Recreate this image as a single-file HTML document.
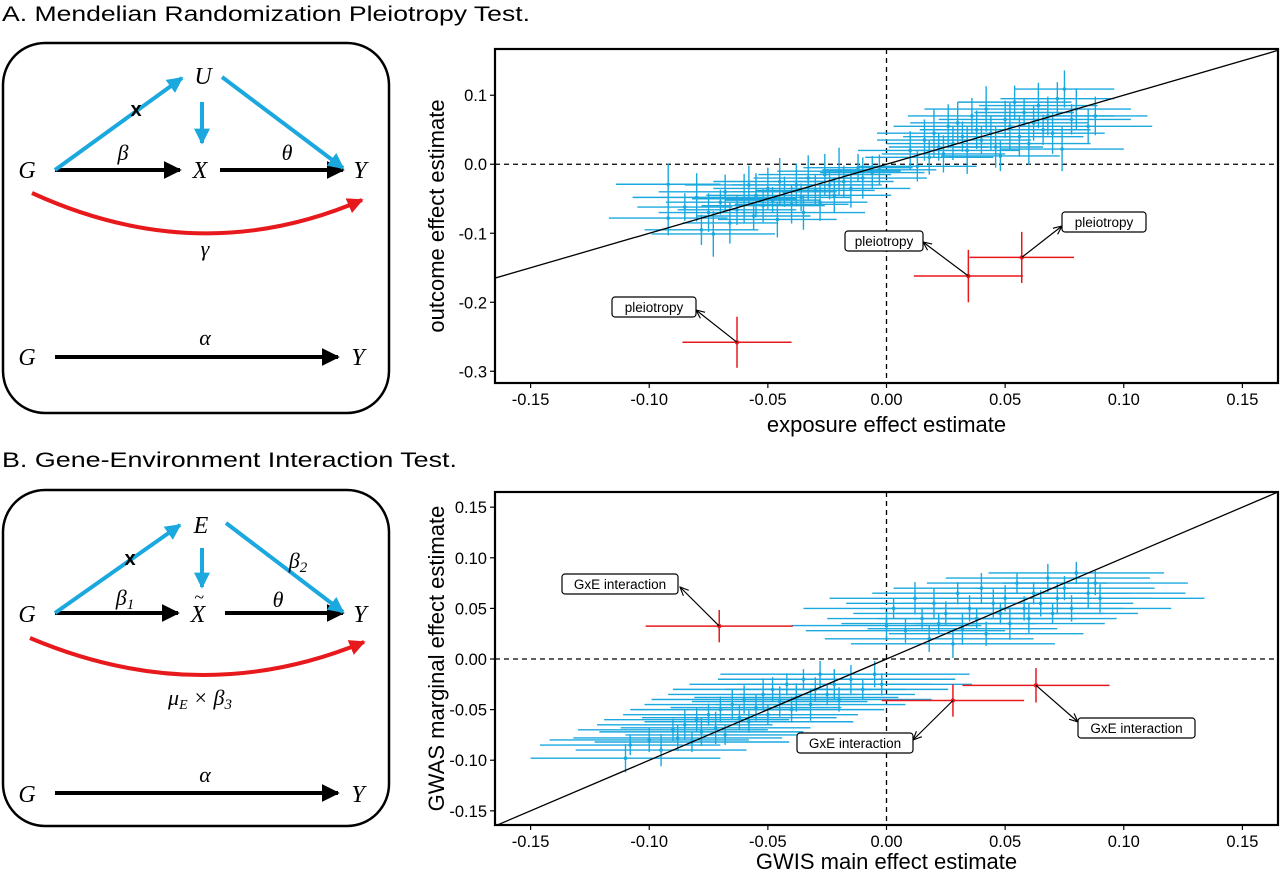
<!DOCTYPE html>
<html><head><meta charset="utf-8">
<style>
body{margin:0;background:#fff;}
svg text{font-family:"Liberation Sans","DejaVu Sans",sans-serif;}
.m{font-family:"Liberation Serif","DejaVu Serif",serif;font-style:italic;}
</style></head>
<body>
<svg id="fig" width="1280" height="874" viewBox="0 0 1280 874" xmlns="http://www.w3.org/2000/svg">
<defs>
<marker id="ab" viewBox="0 0 10 10" refX="9" refY="5" markerWidth="4.5" markerHeight="4.5" orient="auto"><path d="M0,0L10,5L0,10z" fill="#000"/></marker>
<marker id="abl" viewBox="0 0 10 10" refX="9" refY="5" markerWidth="4" markerHeight="4" orient="auto"><path d="M0,0L10,5L0,10z" fill="#1aa8df"/></marker>
<marker id="ar" viewBox="0 0 10 10" refX="9" refY="5" markerWidth="4" markerHeight="4" orient="auto"><path d="M0,0L10,5L0,10z" fill="#e8191c"/></marker>
<marker id="aa" viewBox="0 0 10 10" refX="9" refY="5" markerWidth="8" markerHeight="8" orient="auto"><path d="M0,1L9,5L0,9" fill="none" stroke="#000" stroke-width="1.2"/></marker>
</defs>
<text x="2" y="21" font-size="21" textLength="528" lengthAdjust="spacingAndGlyphs">A. Mendelian Randomization Pleiotropy Test.</text>
<text x="2" y="467" font-size="21" textLength="455" lengthAdjust="spacingAndGlyphs">B. Gene-Environment Interaction Test.</text>

<g>
<rect x="3" y="43" width="386" height="370" rx="42" fill="none" stroke="#000" stroke-width="2.5"/>
<line x1="55" y1="170" x2="180" y2="170" stroke="#000" stroke-width="4" marker-end="url(#ab)"/>
<line x1="220" y1="170" x2="343" y2="170" stroke="#000" stroke-width="4" marker-end="url(#ab)"/>
<line x1="55" y1="170" x2="182" y2="78" stroke="#1aa8df" stroke-width="4" marker-end="url(#abl)"/>
<line x1="202" y1="102" x2="202" y2="143" stroke="#1aa8df" stroke-width="4" marker-end="url(#abl)"/>
<line x1="222" y1="77" x2="343" y2="168" stroke="#1aa8df" stroke-width="4" marker-end="url(#abl)"/>
<text x="136" y="116" font-size="20" font-weight="bold" text-anchor="middle">x</text>
<path d="M32,193 Q200,270 362,200" fill="none" stroke="#e8191c" stroke-width="4" marker-end="url(#ar)"/>
<text class="m" x="27" y="178" font-size="24" text-anchor="middle">G</text>
<text class="m" x="200" y="178" font-size="24" text-anchor="middle">X</text>
<text class="m" x="360" y="178" font-size="24" text-anchor="middle">Y</text>
<text class="m" x="203" y="84" font-size="24" text-anchor="middle">U</text>
<text class="m" x="123" y="160" font-size="22" text-anchor="middle">β</text>
<text class="m" x="287" y="160" font-size="22" text-anchor="middle">θ</text>
<text class="m" x="205" y="256" font-size="22" text-anchor="middle">γ</text>
<line x1="55" y1="357" x2="338" y2="357" stroke="#000" stroke-width="4" marker-end="url(#ab)"/>
<text class="m" x="27" y="365" font-size="24" text-anchor="middle">G</text>
<text class="m" x="358" y="365" font-size="24" text-anchor="middle">Y</text>
<text class="m" x="205" y="345" font-size="22" text-anchor="middle">α</text>
</g>

<g>
<rect x="3" y="490" width="386" height="336" rx="42" fill="none" stroke="#000" stroke-width="2.5"/>
<line x1="55" y1="613" x2="178" y2="613" stroke="#000" stroke-width="4" marker-end="url(#ab)"/>
<line x1="225" y1="613" x2="343" y2="613" stroke="#000" stroke-width="4" marker-end="url(#ab)"/>
<line x1="55" y1="613" x2="180" y2="525" stroke="#1aa8df" stroke-width="4" marker-end="url(#abl)"/>
<line x1="202" y1="548" x2="202" y2="587" stroke="#1aa8df" stroke-width="4" marker-end="url(#abl)"/>
<line x1="226" y1="523" x2="343" y2="612" stroke="#1aa8df" stroke-width="4" marker-end="url(#abl)"/>
<text x="130" y="565" font-size="20" font-weight="bold" text-anchor="middle">x</text>
<path d="M30,638 Q200,710 364,642" fill="none" stroke="#e8191c" stroke-width="4" marker-end="url(#ar)"/>
<text class="m" x="27" y="622" font-size="24" text-anchor="middle">G</text>
<text class="m" x="198" y="622" font-size="24" text-anchor="middle">X</text>
<text class="m" x="199" y="603" font-size="18" text-anchor="middle">~</text>
<text class="m" x="360" y="622" font-size="24" text-anchor="middle">Y</text>
<text class="m" x="201" y="533" font-size="24" text-anchor="middle">E</text>
<text class="m" x="125" y="605" font-size="22" text-anchor="middle">β<tspan font-size="15" dy="4">1</tspan></text>
<text class="m" x="278" y="607" font-size="22" text-anchor="middle">θ</text>
<text class="m" x="298" y="568" font-size="22" text-anchor="middle">β<tspan font-size="15" dy="4">2</tspan></text>
<text class="m" x="200" y="705" font-size="22" text-anchor="middle">μ<tspan font-size="14" dy="4">E</tspan><tspan dy="-4"> × β</tspan><tspan font-size="15" dy="4">3</tspan></text>
<line x1="55" y1="793" x2="338" y2="793" stroke="#000" stroke-width="4" marker-end="url(#ab)"/>
<text class="m" x="27" y="802" font-size="24" text-anchor="middle">G</text>
<text class="m" x="358" y="802" font-size="24" text-anchor="middle">Y</text>
<text class="m" x="205" y="782" font-size="22" text-anchor="middle">α</text>
</g>
<g id="plots"></g>
</svg>
<script>
// ---- Chart A data ----
const aBlueX = [-0.092,-0.092,-0.085,-0.080,-0.078,-0.075,-0.073,-0.070,-0.068,-0.066,-0.063,-0.060,-0.058,-0.056,-0.055,-0.052,-0.050,-0.048,-0.046,-0.045,-0.043,-0.040,-0.038,-0.036,-0.035,-0.033,-0.030,-0.028,-0.026,-0.024,-0.022,-0.020,-0.018,-0.015,-0.012,-0.010,-0.006,-0.003,
 0.010,0.013,0.016,0.018,0.020,0.022,0.024,0.026,0.028,0.030,0.032,0.034,0.036,0.038,0.040,0.042,0.044,0.046,0.048,0.050,0.052,0.054,0.056,0.058,0.060,0.062,0.064,0.066,0.068,0.070,0.072,0.074,0.075,0.078,0.080,0.085,0.088];
const aBlueY = [-0.029,-0.078,-0.062,-0.048,-0.095,-0.070,-0.101,-0.055,-0.040,-0.085,-0.066,-0.050,-0.030,-0.075,-0.045,-0.060,-0.035,-0.052,-0.080,-0.025,-0.040,-0.058,-0.030,-0.048,-0.070,-0.020,-0.038,-0.055,-0.015,-0.030,-0.045,-0.010,-0.025,-0.035,-0.005,-0.020,-0.012,-0.008,
 0.020,-0.003,0.035,0.010,0.045,0.025,0.015,0.055,0.030,0.060,0.040,0.020,0.070,0.050,0.035,0.080,0.045,0.025,0.012,0.065,0.055,0.090,0.040,0.075,0.030,0.060,0.085,0.050,0.070,0.045,0.095,0.022,0.109,0.065,0.080,0.055,0.070];
const aBlueXErr = [0.022,0.025,0.020,0.027,0.024,0.021,0.026,0.023,0.028,0.020,0.025,0.022,0.027,0.024,0.021,0.026,0.023,0.020,0.025,0.028,0.022,0.024,0.027,0.021,0.026,0.023,0.025,0.020,0.028,0.022,0.024,0.026,0.021,0.025,0.023,0.027,0.022,0.024,
 0.022,0.025,0.020,0.027,0.024,0.021,0.026,0.023,0.028,0.020,0.025,0.022,0.027,0.024,0.021,0.026,0.023,0.020,0.025,0.028,0.022,0.024,0.027,0.021,0.026,0.023,0.025,0.020,0.028,0.022,0.024,0.026,0.021,0.025,0.023,0.027,0.022];
const aBlueYErr = [0.030,0.025,0.020,0.035,0.022,0.028,0.033,0.018,0.025,0.030,0.022,0.036,0.028,0.020,0.032,0.024,0.030,0.019,0.026,0.034,0.022,0.028,0.031,0.020,0.025,0.033,0.022,0.027,0.030,0.021,0.026,0.034,0.023,0.028,0.020,0.030,0.024,0.022,
 0.028,0.022,0.030,0.025,0.035,0.020,0.027,0.032,0.024,0.030,0.022,0.034,0.026,0.028,0.021,0.033,0.025,0.030,0.022,0.027,0.035,0.024,0.029,0.021,0.031,0.026,0.033,0.022,0.028,0.030,0.024,0.032,0.027,0.022,0.030,0.025,0.028];
const aRedX = [-0.063,0.0345,0.057];
const aRedY = [-0.258,-0.162,-0.135];
const aRedXErr = [0.023,0.023,0.022];
const aRedYErr = [0.037,0.038,0.037];
const aLabels = ["pleiotropy","pleiotropy","pleiotropy"];
const aXTicks = [-0.15,-0.10,-0.05,0.00,0.05,0.10,0.15];
const aXTickLabels = ["-0.15","-0.10","-0.05","0.00","0.05","0.10","0.15"];
const aYTicks = [0.1,0.0,-0.1,-0.2,-0.3];
const aYTickLabels = ["0.1","0.0","-0.1","-0.2","-0.3"];

// ---- Chart B data ----
const bBlueX = [-0.110,-0.108,-0.100,-0.095,-0.090,-0.088,-0.085,-0.082,-0.080,-0.078,-0.075,-0.072,-0.070,-0.068,-0.065,-0.062,-0.060,-0.058,-0.055,-0.052,-0.050,-0.048,-0.045,-0.042,-0.040,-0.038,-0.035,-0.032,-0.030,-0.028,-0.025,-0.022,-0.020,-0.015,-0.010,-0.005,-0.002,
 0.000,0.003,0.008,0.012,0.015,0.018,0.020,0.022,0.025,0.028,0.030,0.032,0.035,0.038,0.040,0.042,0.045,0.048,0.050,0.052,0.055,0.058,0.060,0.062,0.065,0.068,0.070,0.072,0.075,0.078,0.080,0.085,0.088,0.090];
const bBlueY = [-0.098,-0.085,-0.080,-0.090,-0.070,-0.078,-0.065,-0.082,-0.060,-0.072,-0.055,-0.068,-0.050,-0.075,-0.045,-0.058,-0.040,-0.062,-0.048,-0.035,-0.055,-0.030,-0.042,-0.025,-0.050,-0.038,-0.020,-0.045,-0.030,-0.015,-0.035,-0.025,-0.040,-0.020,-0.030,-0.015,-0.025,
 0.033,0.050,0.028,0.060,0.040,0.020,0.055,0.035,0.045,0.015,0.065,0.030,0.050,0.040,0.070,0.025,0.055,0.045,0.060,0.035,0.075,0.050,0.040,0.065,0.055,0.080,0.045,0.060,0.070,0.050,0.085,0.065,0.075,0.060];
const bBlueXErr = [0.040,0.038,0.042,0.036,0.040,0.044,0.037,0.041,0.039,0.043,0.036,0.040,0.038,0.042,0.037,0.041,0.039,0.044,0.036,0.040,0.038,0.042,0.037,0.041,0.039,0.043,0.036,0.040,0.038,0.042,0.037,0.041,0.039,0.044,0.036,0.040,0.038,
 0.040,0.038,0.042,0.036,0.040,0.044,0.037,0.041,0.039,0.043,0.036,0.040,0.038,0.042,0.037,0.041,0.039,0.044,0.036,0.040,0.038,0.042,0.037,0.041,0.039,0.043,0.036,0.040,0.038,0.042,0.037,0.041,0.039,0.044];
const bBlueYErr = [0.014,0.010,0.012,0.016,0.011,0.013,0.015,0.010,0.012,0.014,0.011,0.016,0.013,0.010,0.015,0.012,0.014,0.011,0.013,0.016,0.010,0.012,0.015,0.011,0.013,0.014,0.010,0.016,0.012,0.013,0.011,0.015,0.012,0.014,0.010,0.013,0.011,
 0.014,0.010,0.012,0.016,0.011,0.013,0.015,0.010,0.012,0.014,0.011,0.016,0.013,0.010,0.015,0.012,0.014,0.011,0.013,0.016,0.010,0.012,0.015,0.011,0.013,0.014,0.010,0.016,0.012,0.013,0.011,0.015,0.012,0.014];
const bRedX = [-0.0705,0.028,0.063];
const bRedY = [0.0325,-0.041,-0.026];
const bRedXErr = [0.031,0.030,0.031];
const bRedYErr = [0.016,0.016,0.017];
const bLabels = ["GxE interaction","GxE interaction","GxE interaction"];
const bXTicks = [-0.15,-0.10,-0.05,0.00,0.05,0.10,0.15];
const bXTickLabels = ["-0.15","-0.10","-0.05","0.00","0.05","0.10","0.15"];
const bYTicks = [0.15,0.10,0.05,0.00,-0.05,-0.10,-0.15];
const bYTickLabels = ["0.15","0.10","0.05","0.00","-0.05","-0.10","-0.15"];

const NS = "http://www.w3.org/2000/svg";
const root = document.getElementById('plots');
function mk(tag, attrs, parent){
  const e = document.createElementNS(NS, tag);
  for (const k in attrs) e.setAttribute(k, attrs[k]);
  (parent||root).appendChild(e);
  return e;
}
function plot(c){
  const g = mk('g', {});
  
  
  const sx = v => c.px0 + (v - c.x0) / (c.x1 - c.x0) * (c.px1 - c.px0);
  const sy = v => c.py0 + (v - c.y0) / (c.y1 - c.y0) * (c.py1 - c.py0);
  const cid = 'clip' + c.name;
  const cp = mk('clipPath', {id: cid}, g);
  mk('rect', {x: c.px0, y: c.py1, width: c.px1 - c.px0, height: c.py0 - c.py1}, cp);
  const inner = mk('g', {'clip-path': 'url(#' + cid + ')'}, g);
  const zx = mk('line', {x1: sx(0), x2: sx(0), y1: c.py1, y2: c.py0, stroke: '#000', 'stroke-width': 1.3, 'stroke-dasharray': '5,4'}, inner);
  
  
  const zy = mk('line', {x1: c.px0, x2: c.px1, y1: sy(0), y2: sy(0), stroke: '#000', 'stroke-width': 1.3, 'stroke-dasharray': '5,4'}, inner);
  
  
  for (let i = 0; i < c.bx.length; i++){
    const pg = mk('g', {stroke: '#1aa8df', 'stroke-width': 1.4}, inner);
    
    
    const x = c.bx[i], y = c.by[i];
    mk('line', {x1: sx(x - c.bxe[i]), x2: sx(x + c.bxe[i]), y1: sy(y), y2: sy(y)}, pg);
    mk('line', {x1: sx(x), x2: sx(x), y1: sy(y - c.bye[i]), y2: sy(y + c.bye[i])}, pg);
    mk('circle', {cx: sx(x), cy: sy(y), r: 1.8, fill: '#1aa8df', stroke: 'none'}, pg);
  }
  const idl = mk('line', {x1: sx(c.x0), y1: sy(c.x0), x2: sx(c.x1), y2: sy(c.x1), stroke: '#000', 'stroke-width': 1.3}, inner);
  
  
  for (let i = 0; i < c.rx.length; i++){
    const pg = mk('g', {stroke: '#e8191c', 'stroke-width': 1.5}, inner);
    
    
    const x = c.rx[i], y = c.ry[i];
    mk('line', {x1: sx(x - c.rxe[i]), x2: sx(x + c.rxe[i]), y1: sy(y), y2: sy(y)}, pg);
    mk('line', {x1: sx(x), x2: sx(x), y1: sy(y - c.rye[i]), y2: sy(y + c.rye[i])}, pg);
    mk('circle', {cx: sx(x), cy: sy(y), r: 2.2, fill: '#e8191c', stroke: 'none'}, pg);
  }
  for (let i = 0; i < c.rx.length; i++){
    const a = c.ann[i];
    const ag = mk('g', {}, g);
    
    
    mk('line', {x1: sx(c.rx[i]), y1: sy(c.ry[i]), x2: a.ax, y2: a.ay, stroke: '#000', 'stroke-width': 1.2, 'marker-end': 'url(#aa)'}, ag);
    mk('rect', {x: a.x, y: a.y, width: a.w, height: 20, rx: 3, fill: '#fff', stroke: '#000', 'stroke-width': 1.2}, ag);
    const t = mk('text', {x: a.x + a.w / 2, y: a.y + 15, 'font-size': 13.5, 'text-anchor': 'middle'}, ag);
    t.textContent = c.labels[i];
  }
  const fr = mk('rect', {x: c.px0, y: c.py1, width: c.px1 - c.px0, height: c.py0 - c.py1, fill: 'none', stroke: '#000', 'stroke-width': 2.2}, g);
  
  
  c.xt.forEach((v, i) => {
    mk('line', {x1: sx(v), x2: sx(v), y1: c.py0, y2: c.py0 + 5, stroke: '#000', 'stroke-width': 1.2}, g);
    const t = mk('text', {x: sx(v), y: c.py0 + 22, 'font-size': 16.5, 'text-anchor': 'middle'}, g);
    
    
    t.textContent = c.xtl[i];
  });
  c.yt.forEach((v, i) => {
    mk('line', {x1: c.px0 - 5, x2: c.px0, y1: sy(v), y2: sy(v), stroke: '#000', 'stroke-width': 1.2}, g);
    const t = mk('text', {x: c.px0 - 8, y: sy(v) + 6, 'font-size': 16.5, 'text-anchor': 'end'}, g);
    
    
    t.textContent = c.ytl[i];
  });
  const xt = mk('text', {x: (c.px0 + c.px1) / 2, y: c.py0 + c.xto, 'font-size': 22, 'text-anchor': 'middle'}, g);
  
  
  xt.textContent = c.xtitle;
  const ymid = (c.py0 + c.py1) / 2;
  const yt = mk('text', {x: 444, y: ymid, 'font-size': 22, 'text-anchor': 'middle', transform: 'rotate(-90 444 ' + ymid + ')'}, g);
  
  
  yt.textContent = c.ytitle;
}
plot({name: 'chart-a', x0: -0.165, x1: 0.165, px0: 495, px1: 1278, y0: -0.317, y1: 0.167, py0: 383, py1: 49, xto: 49,
  bx: aBlueX, by: aBlueY, bxe: aBlueXErr, bye: aBlueYErr, rx: aRedX, ry: aRedY, rxe: aRedXErr, rye: aRedYErr,
  labels: aLabels, xt: aXTicks, xtl: aXTickLabels, yt: aYTicks, ytl: aYTickLabels,
  xtitle: 'exposure effect estimate', ytitle: 'outcome effect estimate',
  ann: [{x: 612, y: 297, w: 84, ax: 696, ay: 310}, {x: 845, y: 231, w: 78, ax: 923, ay: 242}, {x: 1062, y: 212, w: 84, ax: 1062, ay: 226}]});
plot({name: 'chart-b', x0: -0.165, x1: 0.165, px0: 495, px1: 1278, y0: -0.164, y1: 0.165, py0: 825, py1: 492, xto: 44,
  bx: bBlueX, by: bBlueY, bxe: bBlueXErr, bye: bBlueYErr, rx: bRedX, ry: bRedY, rxe: bRedXErr, rye: bRedYErr,
  labels: bLabels, xt: bXTicks, xtl: bXTickLabels, yt: bYTicks, ytl: bYTickLabels,
  xtitle: 'GWIS main effect estimate', ytitle: 'GWAS marginal effect estimate',
  ann: [{x: 562, y: 574, w: 116, ax: 680, ay: 587}, {x: 797, y: 733, w: 116, ax: 913, ay: 740}, {x: 1078, y: 718, w: 117, ax: 1078, ay: 722}]});
</script>
</body></html>
